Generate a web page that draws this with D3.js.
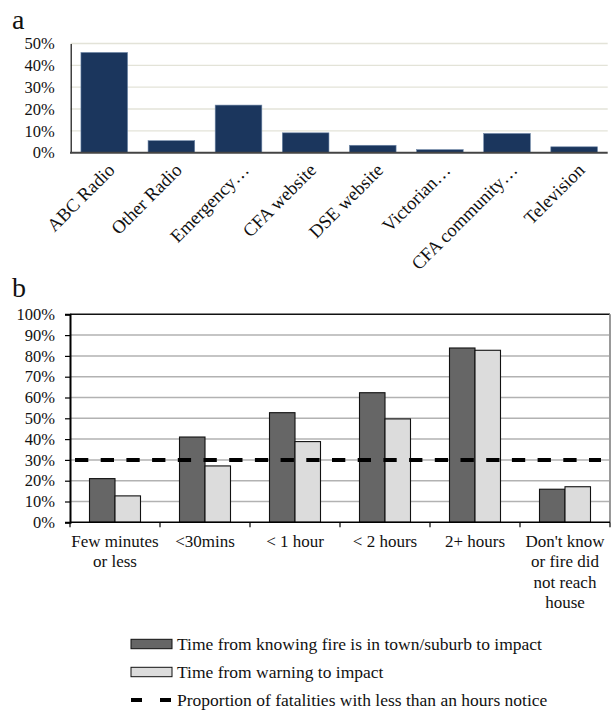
<!DOCTYPE html>
<html>
<head>
<meta charset="utf-8">
<script src="https://cdn.jsdelivr.net/npm/d3@7"></script>
<style>
  html, body { margin: 0; padding: 0; background: #fff; }
  svg { display: block; }
  text { font-family: "Liberation Serif", "DejaVu Serif", serif; fill: #111; }
</style>
</head>
<body>
<svg id="chart" width="616" height="710"></svg>
<script>
// Panel a: source of information
const sourceCategories = ["ABC Radio", "Other Radio", "Emergency\u2026", "CFA website",
  "DSE website", "Victorian\u2026", "CFA community\u2026", "Television"];
const sourceShare = [45.9, 5.5, 21.8, 9.1, 3.4, 1.4, 8.8, 2.7];
const sourceTicks = [0, 10, 20, 30, 40, 50];

// Panel b: warning time before impact
const timeCategories = [["Few minutes", "or less"], ["<30mins"], ["< 1 hour"], ["< 2 hours"],
  ["2+ hours"], ["Don't know", "or fire did", "not reach", "house"]];
const knowingFire = [21, 41, 52.7, 62.3, 83.8, 15.9];
const warningTime = [12.7, 27.1, 38.8, 49.7, 82.7, 17.1];
const fatalityShare = 30;
const timeTicks = [0, 10, 20, 30, 40, 50, 60, 70, 80, 90, 100];
const seriesNames = ["Time from knowing fire is in town/suburb to impact",
  "Time from warning to impact",
  "Proportion of fatalities with less than an hours notice"];

const svg = d3.select("#chart");
const pct = d => d + "%";

// ---------- panel a ----------
svg.append("text").attr("x", 12).attr("y", 29)
  .style("font-size", "28px").text("a");

const xa = d3.scaleBand().domain(sourceCategories).range([70.7, 607.7])
  .paddingInner(0.305).paddingOuter(0.1525);
const ya = d3.scaleLinear().domain([0, 50]).range([152.7, 43.5]);

const ga = svg.append("g");
ga.selectAll("line.grid").data(sourceTicks.slice(1)).join("line")
  .attr("x1", 70.7).attr("x2", 607.7)
  .attr("y1", d => ya(d)).attr("y2", d => ya(d))
  .attr("stroke", "#e3e3d8").attr("stroke-width", 1.3);

ga.selectAll("rect").data(sourceShare).join("rect")
  .attr("x", (d, i) => xa(sourceCategories[i]))
  .attr("width", xa.bandwidth())
  .attr("y", d => ya(d))
  .attr("height", d => ya(0) - ya(d))
  .attr("fill", "#1b365d")
  .attr("stroke", "#7088a8").attr("stroke-width", 0.6);

const yAxisA = ga.append("g").attr("transform", "translate(70.7,0)")
  .call(d3.axisLeft(ya).tickValues(sourceTicks).tickFormat(pct).tickSize(0).tickPadding(16));
yAxisA.select(".domain").attr("stroke", "#111").attr("stroke-width", 1.2);
yAxisA.selectAll("text").style("font-size", "16.5px").style("font-family", "Liberation Serif, serif").attr("fill", "#111");

ga.append("line").attr("x1", 70).attr("x2", 607.7)
  .attr("y1", ya(0)).attr("y2", ya(0))
  .attr("stroke", "#444").attr("stroke-width", 2);

ga.selectAll("text.cat").data(sourceCategories).join("text")
  .attr("class", "cat")
  .attr("transform", d => `translate(${xa(d) + xa.bandwidth() / 2 + 7},${ya(0) + 14}) rotate(-45)`)
  .attr("text-anchor", "end")
  .attr("dy", "0.35em")
  .style("font-size", "18.5px")
  .text(d => d);

// ---------- panel b ----------
svg.append("text").attr("x", 12).attr("y", 297)
  .style("font-size", "28px").text("b");

const left = 70, right = 610;
const yb = d3.scaleLinear().domain([0, 100]).range([522.3, 314.3]);
const x0 = d3.scaleBand().domain(d3.range(timeCategories.length)).range([left, right]);
const x1 = d3.scaleBand().domain([0, 1]).range([0, 51]);
const groupOffset = (x0.bandwidth() - 51) / 2;

const gb = svg.append("g");
gb.selectAll("line.grid").data(timeTicks.slice(1, -1)).join("line")
  .attr("x1", left).attr("x2", right)
  .attr("y1", d => yb(d)).attr("y2", d => yb(d))
  .attr("stroke", "#b2b2b2").attr("stroke-width", 1.5);

// plot frame
gb.append("line").attr("x1", left).attr("x2", right)
  .attr("y1", yb(100)).attr("y2", yb(100)).attr("stroke", "#111").attr("stroke-width", 1.6);
gb.append("line").attr("x1", right).attr("x2", right)
  .attr("y1", yb(100)).attr("y2", yb(0)).attr("stroke", "#999").attr("stroke-width", 2);

const series = [knowingFire, warningTime];
const fills = ["#666666", "#dcdcdc"];
series.forEach((vals, s) => {
  gb.append("g").selectAll("rect").data(vals).join("rect")
    .attr("x", (d, i) => x0(i) + groupOffset + x1(s))
    .attr("width", x1.bandwidth())
    .attr("y", d => yb(d))
    .attr("height", d => yb(0) - yb(d))
    .attr("fill", fills[s])
    .attr("stroke", "#111").attr("stroke-width", 1.1);
});

// fatality reference line
gb.append("line").attr("x1", 75).attr("x2", 601)
  .attr("y1", yb(fatalityShare)).attr("y2", yb(fatalityShare))
  .attr("stroke", "#000").attr("stroke-width", 4)
  .attr("stroke-dasharray", "13.3 12.4");

const yAxisB = gb.append("g").attr("transform", `translate(${left},0)`)
  .call(d3.axisLeft(yb).tickValues(timeTicks).tickFormat(pct).tickSize(5).tickPadding(10));
yAxisB.select(".domain").attr("stroke", "#000").attr("stroke-width", 2);
yAxisB.selectAll(".tick line").attr("stroke", "#000").attr("stroke-width", 1.2);
yAxisB.selectAll("text").style("font-size", "16.5px").style("font-family", "Liberation Serif, serif").attr("fill", "#111");

// category axis with boundary ticks
gb.append("line").attr("x1", left).attr("x2", right)
  .attr("y1", yb(0)).attr("y2", yb(0)).attr("stroke", "#000").attr("stroke-width", 1.6);
gb.selectAll("line.btick").data(d3.range(timeCategories.length + 1)).join("line")
  .attr("x1", i => left + i * x0.step()).attr("x2", i => left + i * x0.step())
  .attr("y1", yb(0)).attr("y2", yb(0) + 5)
  .attr("stroke", "#000").attr("stroke-width", 1.2);

const labels = gb.selectAll("text.cat").data(timeCategories).join("text")
  .attr("class", "cat")
  .attr("text-anchor", "middle")
  .style("font-size", "17px");
labels.each(function (lines, i) {
  d3.select(this).selectAll("tspan").data(lines).join("tspan")
    .attr("x", x0(i) + x0.bandwidth() / 2)
    .attr("y", (d, j) => 547 + j * 20.3)
    .text(d => d);
});

// legend
const lg = svg.append("g");
const legendY = [644, 672, 700];
[0, 1].forEach(s => {
  lg.append("rect").attr("x", 131).attr("y", legendY[s] - 4.7)
    .attr("width", 41).attr("height", 9.4)
    .attr("fill", fills[s]).attr("stroke", "#111").attr("stroke-width", 1);
});
lg.append("line").attr("x1", 131).attr("x2", 172)
  .attr("y1", legendY[2]).attr("y2", legendY[2])
  .attr("stroke", "#000").attr("stroke-width", 4).attr("stroke-dasharray", "11 18");
lg.selectAll("text").data(seriesNames).join("text")
  .attr("x", 177).attr("y", (d, i) => legendY[i])
  .attr("dy", "0.35em")
  .style("font-size", "17.5px")
  .text(d => d);
</script>
</body>
</html>
